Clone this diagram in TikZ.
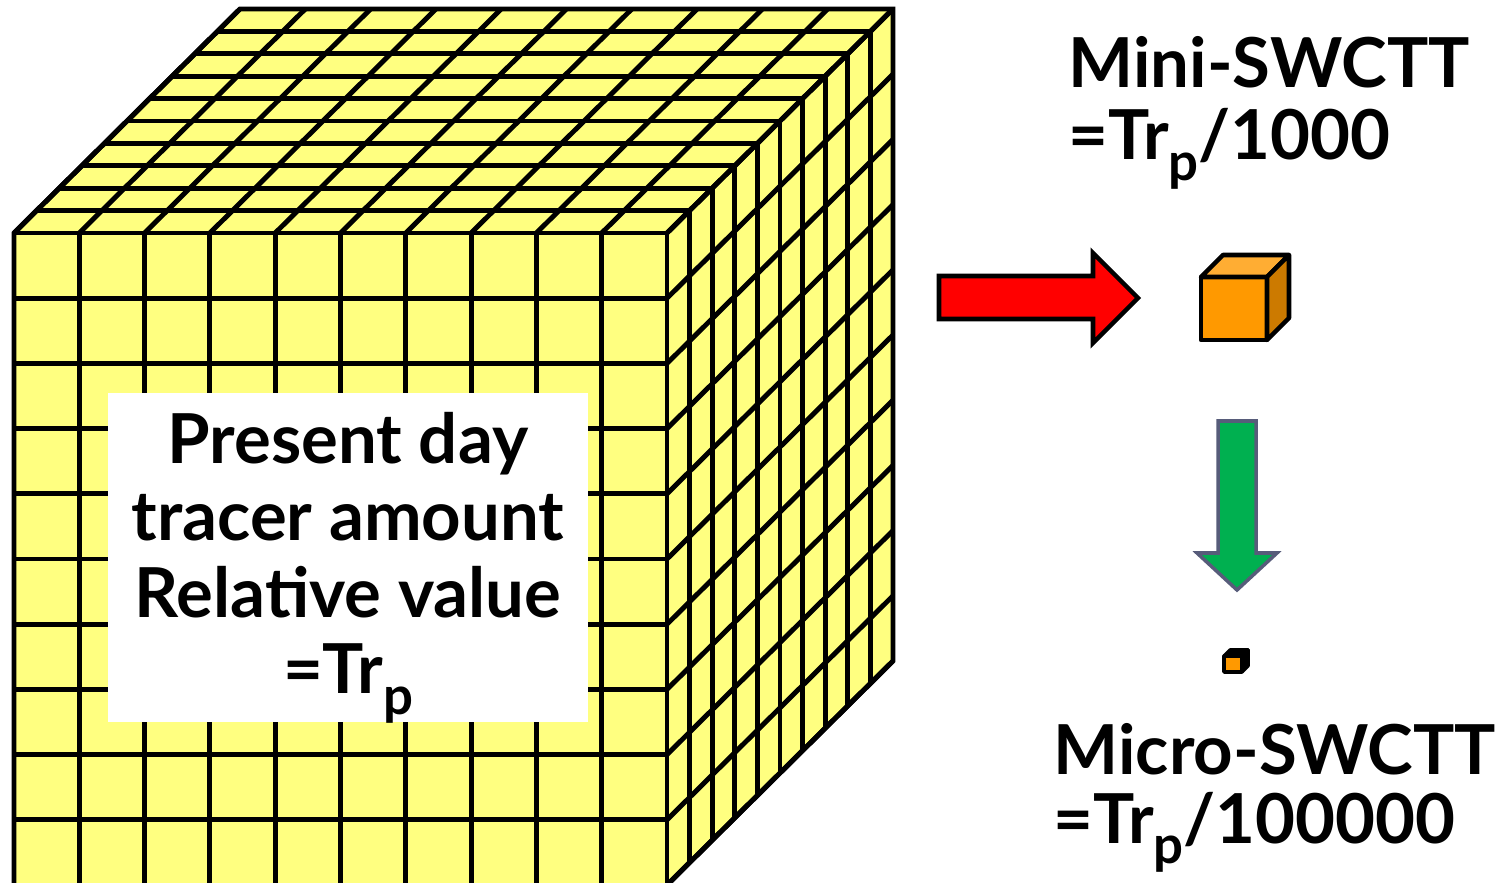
\documentclass[tikz,border=0pt]{standalone}
\usepackage{fontspec}
\setmainfont{Lato}
\usepackage{tikz}
\usetikzlibrary{positioning,calc}
\definecolor{cubeyellow}{RGB}{255,255,128}
\definecolor{minifront}{RGB}{255,153,0}
\definecolor{minitop}{RGB}{255,173,51}
\definecolor{miniside}{RGB}{204,122,0}
\definecolor{downfill}{RGB}{0,176,80}
\definecolor{downedge}{RGB}{87,92,122}
\newcommand{\trsub}{Tr\raisebox{-0.3em}{\fontsize{15}{15}\selectfont p}}

\begin{document}
\begin{tikzpicture}[x=0.1mm, y=-0.1mm, line join=miter,
  every node/.style={font=\bfseries\fontsize{19.6}{21.6}\selectfont, inner sep=0pt},
  grid/.style={draw=black, line width=1.4pt},
  solid/.style={line width=1.3pt, line join=round},
  tag/.style={anchor=base west}]
\clip (0,0) rectangle (1505,883);
% big cube of tracer cells
\fill[cubeyellow] (14,233) rectangle (667,885);
\fill[cubeyellow] (14,233) -- (667,233) -- (893,9) -- (240,9) -- cycle;
\fill[cubeyellow] (667,233) -- (893,9) -- (893,661) -- (667,885) -- cycle;
\foreach \i in {0,...,10} {
  \draw[grid] ({14+65.3*\i},233) -- ++(0,652);
  \draw[grid] ({14+65.3*\i},233) -- ++(226,-224);
  \draw[grid] (14,{233+65.2*\i}) -- ++(653,0);
  \draw[grid] (667,{233+65.2*\i}) -- ++(226,-224);
  \draw[grid] ({14+22.6*\i},{233-22.4*\i}) -- ++(653,0);
  \draw[grid] ({667+22.6*\i},{233-22.4*\i}) -- ++(0,652);
}
\draw[grid] (14,885) -- (14,233) -- (240,9) -- (893,9) -- (893,661) -- (667,885);

\node (present) [fill=white, minimum width=48mm, minimum height=32.9mm] at (348,557.5) {};
\node (presenttext) [align=center, font=\bfseries\fontsize{19.6}{21.8}\selectfont] at (348,568)
  {Present day\\tracer amount\\Relative value\\=\trsub};

% red arrow
\draw[fill=red, line width=1.3pt] (939,276) -- (1093,276) -- (1093,253) -- (1138,298)
  -- (1093,343) -- (1093,319) -- (939,319) -- cycle;
% mini cube
\draw[fill=minifront, solid] (1201,277) rectangle (1267,340);
\draw[fill=minitop, solid] (1201,277) -- (1223,255) -- (1289,255) -- (1267,277) -- cycle;
\draw[fill=miniside, solid] (1267,277) -- (1289,255) -- (1289,318) -- (1267,340) -- cycle;
% green arrow
\draw[fill=downfill, draw=downedge, line width=1pt] (1218,421) -- (1256,421) -- (1256,553) -- (1277,553)
  -- (1237,590) -- (1197,553) -- (1218,553) -- cycle;
% micro cube
\draw[fill=minifront, line width=1pt, line join=round] (1224,656) rectangle (1242,672);
\draw[fill=black, line width=1pt, line join=round] (1224,656) -- (1230,650) -- (1248,650) -- (1242,656) -- cycle;
\draw[fill=black, line width=1pt, line join=round] (1242,656) -- (1248,650) -- (1248,666) -- (1242,672) -- cycle;

\node (mini) [tag] at (1068,88) {Mini-SWCTT};
\node (minival) [tag] at (1068,160) {=\trsub/1000};
\node (micro) [tag] at (1053,775) {Micro-SWCTT};
\node (microval) [tag] at (1053,843) {=\trsub/100000};
\end{tikzpicture}
\end{document}
